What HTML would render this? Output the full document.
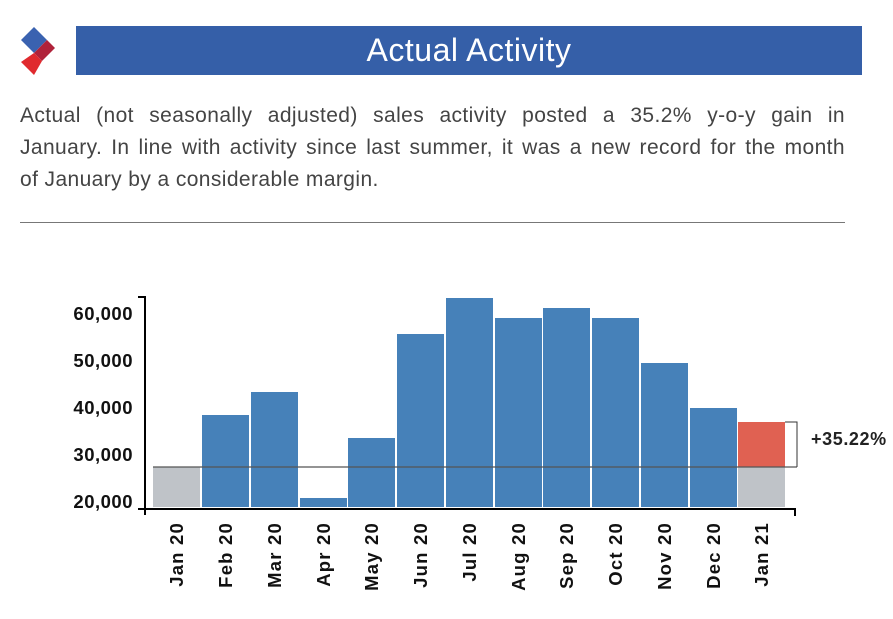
<!DOCTYPE html>
<html><head><style>
body{margin:0;width:893px;height:619px;background:#fff;position:relative;overflow:hidden;font-family:"Liberation Sans",sans-serif}
.hdr{position:absolute;left:76px;top:26px;width:786px;height:49px;background:#355fa8;color:#fff;font-size:32px;letter-spacing:0.5px;text-align:center;line-height:49px}
.p{position:absolute;left:20px;top:100px;width:825px;font-size:21px;line-height:32px;color:#444;letter-spacing:0.4px}
.p div{text-align:justify;text-align-last:justify;white-space:nowrap}
.p div.l{text-align-last:left}
.rule{position:absolute;left:20px;top:222px;width:825px;height:1px;background:#777}
</style></head><body>
<svg style="position:absolute;left:0;top:0" width="893" height="619">
<polygon points="34,27 47,40 34,53 21,40" fill="#3a62b0"/>
<polygon points="47,40 55,48 42,61 34,53" fill="#b0223a"/>
<polygon points="34,53 42,61 34,75 21,62" fill="#e02a2e"/>
</svg>
<div class="hdr">Actual Activity</div>
<div class="p"><div>Actual (not seasonally adjusted) sales activity posted a 35.2% y-o-y gain in</div><div>January. In line with activity since last summer, it was a new record for the month</div><div class="l">of January by a considerable margin.</div></div>
<div class="rule"></div>
<svg style="position:absolute;left:0;top:0" width="893" height="619" font-family="Liberation Sans,sans-serif" font-weight="bold">
<g fill="#4681b9">
<rect x="202" y="415" width="47" height="92"/>
<rect x="251" y="392" width="47" height="115"/>
<rect x="300" y="498" width="47" height="9"/>
<rect x="348" y="438" width="47" height="69"/>
<rect x="397" y="334" width="47" height="173"/>
<rect x="446" y="298" width="47" height="209"/>
<rect x="495" y="318" width="47" height="189"/>
<rect x="543" y="308" width="47" height="199"/>
<rect x="592" y="318" width="47" height="189"/>
<rect x="641" y="363" width="47" height="144"/>
<rect x="690" y="408" width="47" height="99"/>
</g>
<rect x="153" y="467" width="47" height="40" fill="#bfc3c8"/>
<rect x="738" y="467" width="47" height="40" fill="#bfc3c8"/>
<rect x="738" y="422" width="47" height="45" fill="#e06152"/>
<line x1="153" y1="467" x2="797" y2="467" stroke="#555" stroke-width="1.2"/>
<polyline points="785,422 797,422 797,467" fill="none" stroke="#333" stroke-width="1"/>
<text x="811" y="445" font-size="18" letter-spacing="0.6" fill="#222">+35.22%</text>
<path d="M138,297H145V515M138,509H795V516" fill="none" stroke="#000" stroke-width="2"/>
<g font-size="18.5" letter-spacing="0.5" fill="#111" text-anchor="end">
<text x="133" y="320">60,000</text><text x="133" y="367">50,000</text>
<text x="133" y="414">40,000</text><text x="133" y="461">30,000</text>
<text x="133" y="508">20,000</text>
</g>
<g font-size="18.5" letter-spacing="1.2" fill="#111" text-anchor="end">
<text transform="translate(183,522) rotate(-90)">Jan 20</text>
<text transform="translate(232,522) rotate(-90)">Feb 20</text>
<text transform="translate(281,522) rotate(-90)">Mar 20</text>
<text transform="translate(330,522) rotate(-90)">Apr 20</text>
<text transform="translate(378,522) rotate(-90)">May 20</text>
<text transform="translate(427,522) rotate(-90)">Jun 20</text>
<text transform="translate(476,522) rotate(-90)">Jul 20</text>
<text transform="translate(525,522) rotate(-90)">Aug 20</text>
<text transform="translate(573,522) rotate(-90)">Sep 20</text>
<text transform="translate(622,522) rotate(-90)">Oct 20</text>
<text transform="translate(671,522) rotate(-90)">Nov 20</text>
<text transform="translate(720,522) rotate(-90)">Dec 20</text>
<text transform="translate(768,522) rotate(-90)">Jan 21</text>
</g>
</svg>
</body></html>
